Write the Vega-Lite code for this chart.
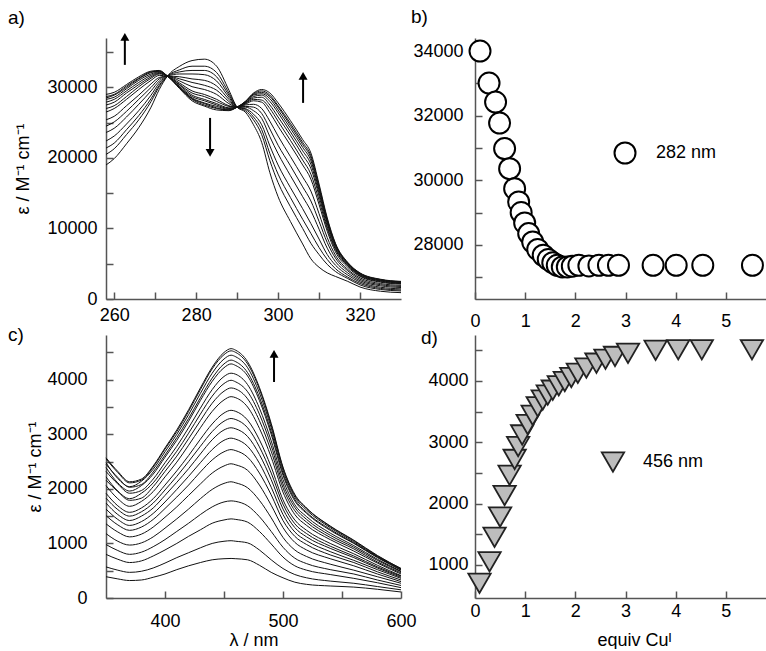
{
"$schema": "https://vega.github.io/schema/vega-lite/v6.json",
"padding": {"left": 8, "top": 7, "right": 0, "bottom": 0},
"background": "white",
"config": {
  "font": "Liberation Sans",
  "view": {"stroke": null},
  "axis": {"grid": false, "domainColor": "#555", "domainWidth": 1.5, "tickColor": "#555", "tickWidth": 1.5, "tickSize": -7, "labelFontSize": 18, "labelColor": "#000", "titleFontSize": 18, "titleFontWeight": "normal", "titleColor": "#000", "labelFlush": false, "labelOverlap": false},
  "title": {"fontSize": 19, "fontWeight": "normal", "anchor": "start", "frame": "group", "color": "#000"},
  "text": {"font": "Liberation Sans", "fontSize": 18, "color": "#000"}
},
"datasets": {
"specA": [
{"c":0,"nm":258,"eps":19000},{"c":0,"nm":260,"eps":19900},{"c":0,"nm":263,"eps":22000},{"c":0,"nm":266,"eps":24300},{"c":0,"nm":269,"eps":27200},{"c":0,"nm":271,"eps":29700},{"c":0,"nm":273,"eps":31600},{"c":0,"nm":276,"eps":33000},{"c":0,"nm":279,"eps":33800},{"c":0,"nm":282,"eps":34000},{"c":0,"nm":285,"eps":33000},{"c":0,"nm":288,"eps":29600},{"c":0,"nm":290,"eps":27200},{"c":0,"nm":292,"eps":26500},{"c":0,"nm":294,"eps":24700},{"c":0,"nm":296,"eps":22200},{"c":0,"nm":298,"eps":17900},{"c":0,"nm":300,"eps":14500},{"c":0,"nm":303,"eps":11000},{"c":0,"nm":306,"eps":7800},{"c":0,"nm":308,"eps":5700},{"c":0,"nm":310,"eps":4500},{"c":0,"nm":312,"eps":3700},{"c":0,"nm":314,"eps":3200},{"c":0,"nm":317,"eps":2500},{"c":0,"nm":320,"eps":1700},{"c":0,"nm":325,"eps":1100},{"c":0,"nm":330,"eps":900},
{"c":1,"nm":258,"eps":20500},{"c":1,"nm":260,"eps":21300},{"c":1,"nm":263,"eps":23300},{"c":1,"nm":266,"eps":25400},{"c":1,"nm":269,"eps":28000},{"c":1,"nm":271,"eps":30100},{"c":1,"nm":273,"eps":31600},{"c":1,"nm":276,"eps":32500},{"c":1,"nm":279,"eps":33000},{"c":1,"nm":282,"eps":33000},{"c":1,"nm":285,"eps":32100},{"c":1,"nm":288,"eps":29200},{"c":1,"nm":290,"eps":27200},{"c":1,"nm":292,"eps":26700},{"c":1,"nm":294,"eps":25400},{"c":1,"nm":296,"eps":23300},{"c":1,"nm":298,"eps":19600},{"c":1,"nm":300,"eps":16500},{"c":1,"nm":303,"eps":13100},{"c":1,"nm":306,"eps":10000},{"c":1,"nm":308,"eps":7900},{"c":1,"nm":310,"eps":6300},{"c":1,"nm":312,"eps":4900},{"c":1,"nm":314,"eps":3900},{"c":1,"nm":317,"eps":2900},{"c":1,"nm":320,"eps":2000},{"c":1,"nm":325,"eps":1350},{"c":1,"nm":330,"eps":1140},
{"c":2,"nm":258,"eps":21400},{"c":2,"nm":260,"eps":22100},{"c":2,"nm":263,"eps":24000},{"c":2,"nm":266,"eps":26000},{"c":2,"nm":269,"eps":28400},{"c":2,"nm":271,"eps":30300},{"c":2,"nm":273,"eps":31600},{"c":2,"nm":276,"eps":32200},{"c":2,"nm":279,"eps":32400},{"c":2,"nm":282,"eps":32400},{"c":2,"nm":285,"eps":31500},{"c":2,"nm":288,"eps":28900},{"c":2,"nm":290,"eps":27200},{"c":2,"nm":292,"eps":26900},{"c":2,"nm":294,"eps":25800},{"c":2,"nm":296,"eps":24000},{"c":2,"nm":298,"eps":20600},{"c":2,"nm":300,"eps":17700},{"c":2,"nm":303,"eps":14400},{"c":2,"nm":306,"eps":11300},{"c":2,"nm":308,"eps":9300},{"c":2,"nm":310,"eps":7300},{"c":2,"nm":312,"eps":5600},{"c":2,"nm":314,"eps":4300},{"c":2,"nm":317,"eps":3100},{"c":2,"nm":320,"eps":2200},{"c":2,"nm":325,"eps":1500},{"c":2,"nm":330,"eps":1280},
{"c":3,"nm":258,"eps":22400},{"c":3,"nm":260,"eps":23100},{"c":3,"nm":263,"eps":24800},{"c":3,"nm":266,"eps":26700},{"c":3,"nm":269,"eps":28900},{"c":3,"nm":271,"eps":30600},{"c":3,"nm":273,"eps":31600},{"c":3,"nm":276,"eps":31900},{"c":3,"nm":279,"eps":31900},{"c":3,"nm":282,"eps":31800},{"c":3,"nm":285,"eps":30900},{"c":3,"nm":288,"eps":28600},{"c":3,"nm":290,"eps":27200},{"c":3,"nm":292,"eps":27000},{"c":3,"nm":294,"eps":26200},{"c":3,"nm":296,"eps":24700},{"c":3,"nm":298,"eps":21700},{"c":3,"nm":300,"eps":19000},{"c":3,"nm":303,"eps":15800},{"c":3,"nm":306,"eps":12800},{"c":3,"nm":308,"eps":10700},{"c":3,"nm":310,"eps":8500},{"c":3,"nm":312,"eps":6300},{"c":3,"nm":314,"eps":4800},{"c":3,"nm":317,"eps":3400},{"c":3,"nm":320,"eps":2400},{"c":3,"nm":325,"eps":1670},{"c":3,"nm":330,"eps":1440},
{"c":4,"nm":258,"eps":23600},{"c":4,"nm":260,"eps":24200},{"c":4,"nm":263,"eps":25800},{"c":4,"nm":266,"eps":27600},{"c":4,"nm":269,"eps":29500},{"c":4,"nm":271,"eps":30900},{"c":4,"nm":273,"eps":31600},{"c":4,"nm":276,"eps":31500},{"c":4,"nm":279,"eps":31200},{"c":4,"nm":282,"eps":31000},{"c":4,"nm":285,"eps":30200},{"c":4,"nm":288,"eps":28300},{"c":4,"nm":290,"eps":27200},{"c":4,"nm":292,"eps":27200},{"c":4,"nm":294,"eps":26700},{"c":4,"nm":296,"eps":25600},{"c":4,"nm":298,"eps":23000},{"c":4,"nm":300,"eps":20600},{"c":4,"nm":303,"eps":17500},{"c":4,"nm":306,"eps":14500},{"c":4,"nm":308,"eps":12500},{"c":4,"nm":310,"eps":9900},{"c":4,"nm":312,"eps":7200},{"c":4,"nm":314,"eps":5300},{"c":4,"nm":317,"eps":3700},{"c":4,"nm":320,"eps":2600},{"c":4,"nm":325,"eps":1870},{"c":4,"nm":330,"eps":1630},
{"c":5,"nm":258,"eps":24500},{"c":5,"nm":260,"eps":25100},{"c":5,"nm":263,"eps":26600},{"c":5,"nm":266,"eps":28300},{"c":5,"nm":269,"eps":30000},{"c":5,"nm":271,"eps":31200},{"c":5,"nm":273,"eps":31600},{"c":5,"nm":276,"eps":31200},{"c":5,"nm":279,"eps":30700},{"c":5,"nm":282,"eps":30300},{"c":5,"nm":285,"eps":29600},{"c":5,"nm":288,"eps":28000},{"c":5,"nm":290,"eps":27200},{"c":5,"nm":292,"eps":27300},{"c":5,"nm":294,"eps":27200},{"c":5,"nm":296,"eps":26300},{"c":5,"nm":298,"eps":24100},{"c":5,"nm":300,"eps":21800},{"c":5,"nm":303,"eps":18900},{"c":5,"nm":306,"eps":15900},{"c":5,"nm":308,"eps":13900},{"c":5,"nm":310,"eps":11000},{"c":5,"nm":312,"eps":8000},{"c":5,"nm":314,"eps":5800},{"c":5,"nm":317,"eps":4000},{"c":5,"nm":320,"eps":2800},{"c":5,"nm":325,"eps":2030},{"c":5,"nm":330,"eps":1780},
{"c":6,"nm":258,"eps":25400},{"c":6,"nm":260,"eps":25900},{"c":6,"nm":263,"eps":27400},{"c":6,"nm":266,"eps":28900},{"c":6,"nm":269,"eps":30500},{"c":6,"nm":271,"eps":31400},{"c":6,"nm":273,"eps":31600},{"c":6,"nm":276,"eps":30900},{"c":6,"nm":279,"eps":30100},{"c":6,"nm":282,"eps":29700},{"c":6,"nm":285,"eps":29000},{"c":6,"nm":288,"eps":27700},{"c":6,"nm":290,"eps":27200},{"c":6,"nm":292,"eps":27500},{"c":6,"nm":294,"eps":27600},{"c":6,"nm":296,"eps":27000},{"c":6,"nm":298,"eps":25200},{"c":6,"nm":300,"eps":23100},{"c":6,"nm":303,"eps":20200},{"c":6,"nm":306,"eps":17300},{"c":6,"nm":308,"eps":15300},{"c":6,"nm":310,"eps":12100},{"c":6,"nm":312,"eps":8700},{"c":6,"nm":314,"eps":6200},{"c":6,"nm":317,"eps":4200},{"c":6,"nm":320,"eps":3000},{"c":6,"nm":325,"eps":2190},{"c":6,"nm":330,"eps":1930},
{"c":7,"nm":258,"eps":26500},{"c":7,"nm":260,"eps":27000},{"c":7,"nm":263,"eps":28300},{"c":7,"nm":266,"eps":29700},{"c":7,"nm":269,"eps":31000},{"c":7,"nm":271,"eps":31700},{"c":7,"nm":273,"eps":31600},{"c":7,"nm":276,"eps":30600},{"c":7,"nm":279,"eps":29500},{"c":7,"nm":282,"eps":29000},{"c":7,"nm":285,"eps":28300},{"c":7,"nm":288,"eps":27400},{"c":7,"nm":290,"eps":27200},{"c":7,"nm":292,"eps":27600},{"c":7,"nm":294,"eps":28100},{"c":7,"nm":296,"eps":27900},{"c":7,"nm":298,"eps":26400},{"c":7,"nm":300,"eps":24500},{"c":7,"nm":303,"eps":21800},{"c":7,"nm":306,"eps":19000},{"c":7,"nm":308,"eps":17000},{"c":7,"nm":310,"eps":13400},{"c":7,"nm":312,"eps":9600},{"c":7,"nm":314,"eps":6700},{"c":7,"nm":317,"eps":4500},{"c":7,"nm":320,"eps":3200},{"c":7,"nm":325,"eps":2380},{"c":7,"nm":330,"eps":2110},
{"c":8,"nm":258,"eps":27500},{"c":8,"nm":260,"eps":27900},{"c":8,"nm":263,"eps":29200},{"c":8,"nm":266,"eps":30400},{"c":8,"nm":269,"eps":31500},{"c":8,"nm":271,"eps":32000},{"c":8,"nm":273,"eps":31600},{"c":8,"nm":276,"eps":30300},{"c":8,"nm":279,"eps":28900},{"c":8,"nm":282,"eps":28300},{"c":8,"nm":285,"eps":27700},{"c":8,"nm":288,"eps":27100},{"c":8,"nm":290,"eps":27200},{"c":8,"nm":292,"eps":27800},{"c":8,"nm":294,"eps":28500},{"c":8,"nm":296,"eps":28600},{"c":8,"nm":298,"eps":27500},{"c":8,"nm":300,"eps":25800},{"c":8,"nm":303,"eps":23200},{"c":8,"nm":306,"eps":20400},{"c":8,"nm":308,"eps":18500},{"c":8,"nm":310,"eps":14600},{"c":8,"nm":312,"eps":10300},{"c":8,"nm":314,"eps":7200},{"c":8,"nm":317,"eps":4800},{"c":8,"nm":320,"eps":3400},{"c":8,"nm":325,"eps":2550},{"c":8,"nm":330,"eps":2260},
{"c":9,"nm":258,"eps":28300},{"c":9,"nm":260,"eps":28600},{"c":9,"nm":263,"eps":29800},{"c":9,"nm":266,"eps":31000},{"c":9,"nm":269,"eps":31900},{"c":9,"nm":271,"eps":32200},{"c":9,"nm":273,"eps":31600},{"c":9,"nm":276,"eps":30000},{"c":9,"nm":279,"eps":28500},{"c":9,"nm":282,"eps":27800},{"c":9,"nm":285,"eps":27300},{"c":9,"nm":288,"eps":26900},{"c":9,"nm":290,"eps":27200},{"c":9,"nm":292,"eps":27900},{"c":9,"nm":294,"eps":28900},{"c":9,"nm":296,"eps":29100},{"c":9,"nm":298,"eps":28400},{"c":9,"nm":300,"eps":26800},{"c":9,"nm":303,"eps":24200},{"c":9,"nm":306,"eps":21500},{"c":9,"nm":308,"eps":19600},{"c":9,"nm":310,"eps":15400},{"c":9,"nm":312,"eps":10900},{"c":9,"nm":314,"eps":7600},{"c":9,"nm":317,"eps":5000},{"c":9,"nm":320,"eps":3550},{"c":9,"nm":325,"eps":2670},{"c":9,"nm":330,"eps":2380},
{"c":10,"nm":258,"eps":28700},{"c":10,"nm":260,"eps":29000},{"c":10,"nm":263,"eps":30200},{"c":10,"nm":266,"eps":31300},{"c":10,"nm":269,"eps":32200},{"c":10,"nm":271,"eps":32300},{"c":10,"nm":273,"eps":31600},{"c":10,"nm":276,"eps":29900},{"c":10,"nm":279,"eps":28300},{"c":10,"nm":282,"eps":27500},{"c":10,"nm":285,"eps":27000},{"c":10,"nm":288,"eps":26800},{"c":10,"nm":290,"eps":27200},{"c":10,"nm":292,"eps":28000},{"c":10,"nm":294,"eps":29100},{"c":10,"nm":296,"eps":29500},{"c":10,"nm":298,"eps":28900},{"c":10,"nm":300,"eps":27400},{"c":10,"nm":303,"eps":24900},{"c":10,"nm":306,"eps":22200},{"c":10,"nm":308,"eps":20300},{"c":10,"nm":310,"eps":16000},{"c":10,"nm":312,"eps":11300},{"c":10,"nm":314,"eps":7800},{"c":10,"nm":317,"eps":5100},{"c":10,"nm":320,"eps":3650},{"c":10,"nm":325,"eps":2750},{"c":10,"nm":330,"eps":2460},
{"c":11,"nm":258,"eps":29000},{"c":11,"nm":260,"eps":29300},{"c":11,"nm":263,"eps":30400},{"c":11,"nm":266,"eps":31500},{"c":11,"nm":269,"eps":32300},{"c":11,"nm":271,"eps":32400},{"c":11,"nm":273,"eps":31600},{"c":11,"nm":276,"eps":29800},{"c":11,"nm":279,"eps":28100},{"c":11,"nm":282,"eps":27350},{"c":11,"nm":285,"eps":26800},{"c":11,"nm":288,"eps":26700},{"c":11,"nm":290,"eps":27200},{"c":11,"nm":292,"eps":28000},{"c":11,"nm":294,"eps":29200},{"c":11,"nm":296,"eps":29700},{"c":11,"nm":298,"eps":29200},{"c":11,"nm":300,"eps":27800},{"c":11,"nm":303,"eps":25300},{"c":11,"nm":306,"eps":22600},{"c":11,"nm":308,"eps":20700},{"c":11,"nm":310,"eps":16300},{"c":11,"nm":312,"eps":11500},{"c":11,"nm":314,"eps":7900},{"c":11,"nm":317,"eps":5200},{"c":11,"nm":320,"eps":3700},{"c":11,"nm":325,"eps":2800},{"c":11,"nm":330,"eps":2500},
{"c":12,"nm":258,"eps":27000},{"c":12,"nm":260,"eps":27400},{"c":12,"nm":263,"eps":28700},{"c":12,"nm":266,"eps":30100},{"c":12,"nm":269,"eps":31300},{"c":12,"nm":271,"eps":31900},{"c":12,"nm":273,"eps":31600},{"c":12,"nm":276,"eps":30400},{"c":12,"nm":279,"eps":29200},{"c":12,"nm":282,"eps":28700},{"c":12,"nm":285,"eps":28000},{"c":12,"nm":288,"eps":27300},{"c":12,"nm":290,"eps":27200},{"c":12,"nm":292,"eps":27700},{"c":12,"nm":294,"eps":28300},{"c":12,"nm":296,"eps":28200},{"c":12,"nm":298,"eps":27000},{"c":12,"nm":300,"eps":25200},{"c":12,"nm":303,"eps":22500},{"c":12,"nm":306,"eps":19700},{"c":12,"nm":308,"eps":17700},{"c":12,"nm":310,"eps":14000},{"c":12,"nm":312,"eps":10000},{"c":12,"nm":314,"eps":7000},{"c":12,"nm":317,"eps":4700},{"c":12,"nm":320,"eps":3300},{"c":12,"nm":325,"eps":2460},{"c":12,"nm":330,"eps":2180},
{"c":13,"nm":258,"eps":27900},{"c":13,"nm":260,"eps":28300},{"c":13,"nm":263,"eps":29500},{"c":13,"nm":266,"eps":30700},{"c":13,"nm":269,"eps":31700},{"c":13,"nm":271,"eps":32100},{"c":13,"nm":273,"eps":31600},{"c":13,"nm":276,"eps":30100},{"c":13,"nm":279,"eps":28700},{"c":13,"nm":282,"eps":28100},{"c":13,"nm":285,"eps":27500},{"c":13,"nm":288,"eps":27000},{"c":13,"nm":290,"eps":27200},{"c":13,"nm":292,"eps":27800},{"c":13,"nm":294,"eps":28700},{"c":13,"nm":296,"eps":28900},{"c":13,"nm":298,"eps":28000},{"c":13,"nm":300,"eps":26400},{"c":13,"nm":303,"eps":23700},{"c":13,"nm":306,"eps":21000},{"c":13,"nm":308,"eps":19100},{"c":13,"nm":310,"eps":15000},{"c":13,"nm":312,"eps":10700},{"c":13,"nm":314,"eps":7400},{"c":13,"nm":317,"eps":4900},{"c":13,"nm":320,"eps":3480},{"c":13,"nm":325,"eps":2610},{"c":13,"nm":330,"eps":2330},
{"c":14,"nm":258,"eps":28500},{"c":14,"nm":260,"eps":28900},{"c":14,"nm":263,"eps":30000},{"c":14,"nm":266,"eps":31200},{"c":14,"nm":269,"eps":32100},{"c":14,"nm":271,"eps":32300},{"c":14,"nm":273,"eps":31600},{"c":14,"nm":276,"eps":29950},{"c":14,"nm":279,"eps":28400},{"c":14,"nm":282,"eps":27700},{"c":14,"nm":285,"eps":27100},{"c":14,"nm":288,"eps":26800},{"c":14,"nm":290,"eps":27200},{"c":14,"nm":292,"eps":27900},{"c":14,"nm":294,"eps":29000},{"c":14,"nm":296,"eps":29300},{"c":14,"nm":298,"eps":28700},{"c":14,"nm":300,"eps":27200},{"c":14,"nm":303,"eps":24600},{"c":14,"nm":306,"eps":21900},{"c":14,"nm":308,"eps":20000},{"c":14,"nm":310,"eps":15700},{"c":14,"nm":312,"eps":11100},{"c":14,"nm":314,"eps":7700},{"c":14,"nm":317,"eps":5070},{"c":14,"nm":320,"eps":3610},{"c":14,"nm":325,"eps":2720},{"c":14,"nm":330,"eps":2420}
],
"arrowsA": [
{"nm":262.6,"eps":37160,"eps2":33190},
{"nm":283.4,"eps":20710,"eps2":25670},
{"nm":306.1,"eps":31630,"eps2":27800}
],
"pointsB": [
{"eq":0.1,"eps":34000},{"eq":0.28,"eps":33010},{"eq":0.41,"eps":32420},{"eq":0.49,"eps":31770},{"eq":0.59,"eps":30980},{"eq":0.69,"eps":30360},{"eq":0.79,"eps":29740},{"eq":0.87,"eps":29330},{"eq":0.92,"eps":29000},{"eq":0.99,"eps":28680},{"eq":1.07,"eps":28350},{"eq":1.15,"eps":28090},{"eq":1.25,"eps":27860},{"eq":1.36,"eps":27680},{"eq":1.46,"eps":27550},{"eq":1.55,"eps":27450},{"eq":1.64,"eps":27370},{"eq":1.74,"eps":27320},{"eq":1.84,"eps":27320},{"eq":1.94,"eps":27340},{"eq":2.07,"eps":27370},{"eq":2.27,"eps":27350},{"eq":2.47,"eps":27370},{"eq":2.66,"eps":27370},{"eq":2.86,"eps":27370},{"eq":3.55,"eps":27370},{"eq":4.01,"eps":27370},{"eq":4.54,"eps":27370},{"eq":5.53,"eps":27370}
],
"legendB": [{"eq":2.99,"eps":30844,"label":"282 nm"}],
"specC": [
{"c":0,"nm":350,"eps":390},{"c":0,"nm":360,"eps":350},{"c":0,"nm":370,"eps":320},{"c":0,"nm":380,"eps":330},{"c":0,"nm":390,"eps":380},{"c":0,"nm":400,"eps":440},{"c":0,"nm":410,"eps":520},{"c":0,"nm":420,"eps":590},{"c":0,"nm":430,"eps":650},{"c":0,"nm":440,"eps":700},{"c":0,"nm":450,"eps":720},{"c":0,"nm":456,"eps":725},{"c":0,"nm":460,"eps":720},{"c":0,"nm":470,"eps":700},{"c":0,"nm":480,"eps":600},{"c":0,"nm":490,"eps":470},{"c":0,"nm":500,"eps":370},{"c":0,"nm":510,"eps":290},{"c":0,"nm":520,"eps":250},{"c":0,"nm":540,"eps":220},{"c":0,"nm":560,"eps":200},{"c":0,"nm":580,"eps":160},{"c":0,"nm":600,"eps":110},
{"c":1,"nm":350,"eps":570},{"c":1,"nm":360,"eps":510},{"c":1,"nm":370,"eps":470},{"c":1,"nm":380,"eps":490},{"c":1,"nm":390,"eps":550},{"c":1,"nm":400,"eps":640},{"c":1,"nm":410,"eps":740},{"c":1,"nm":420,"eps":830},{"c":1,"nm":430,"eps":920},{"c":1,"nm":440,"eps":1000},{"c":1,"nm":450,"eps":1040},{"c":1,"nm":456,"eps":1050},{"c":1,"nm":460,"eps":1040},{"c":1,"nm":470,"eps":1010},{"c":1,"nm":480,"eps":880},{"c":1,"nm":490,"eps":700},{"c":1,"nm":500,"eps":540},{"c":1,"nm":510,"eps":430},{"c":1,"nm":520,"eps":370},{"c":1,"nm":540,"eps":310},{"c":1,"nm":560,"eps":270},{"c":1,"nm":580,"eps":210},{"c":1,"nm":600,"eps":150},
{"c":2,"nm":350,"eps":800},{"c":2,"nm":360,"eps":710},{"c":2,"nm":370,"eps":650},{"c":2,"nm":380,"eps":680},{"c":2,"nm":390,"eps":770},{"c":2,"nm":400,"eps":880},{"c":2,"nm":410,"eps":1000},{"c":2,"nm":420,"eps":1130},{"c":2,"nm":430,"eps":1250},{"c":2,"nm":440,"eps":1370},{"c":2,"nm":450,"eps":1430},{"c":2,"nm":456,"eps":1450},{"c":2,"nm":460,"eps":1440},{"c":2,"nm":470,"eps":1390},{"c":2,"nm":480,"eps":1220},{"c":2,"nm":490,"eps":990},{"c":2,"nm":500,"eps":750},{"c":2,"nm":510,"eps":590},{"c":2,"nm":520,"eps":510},{"c":2,"nm":540,"eps":430},{"c":2,"nm":560,"eps":360},{"c":2,"nm":580,"eps":280},{"c":2,"nm":600,"eps":190},
{"c":3,"nm":350,"eps":980},{"c":3,"nm":360,"eps":870},{"c":3,"nm":370,"eps":800},{"c":3,"nm":380,"eps":840},{"c":3,"nm":390,"eps":940},{"c":3,"nm":400,"eps":1070},{"c":3,"nm":410,"eps":1220},{"c":3,"nm":420,"eps":1370},{"c":3,"nm":430,"eps":1530},{"c":3,"nm":440,"eps":1670},{"c":3,"nm":450,"eps":1760},{"c":3,"nm":456,"eps":1780},{"c":3,"nm":460,"eps":1770},{"c":3,"nm":470,"eps":1690},{"c":3,"nm":480,"eps":1490},{"c":3,"nm":490,"eps":1220},{"c":3,"nm":500,"eps":930},{"c":3,"nm":510,"eps":730},{"c":3,"nm":520,"eps":630},{"c":3,"nm":540,"eps":520},{"c":3,"nm":560,"eps":440},{"c":3,"nm":580,"eps":330},{"c":3,"nm":600,"eps":230},
{"c":4,"nm":350,"eps":1180},{"c":4,"nm":360,"eps":1040},{"c":4,"nm":370,"eps":970},{"c":4,"nm":380,"eps":1010},{"c":4,"nm":390,"eps":1120},{"c":4,"nm":400,"eps":1280},{"c":4,"nm":410,"eps":1450},{"c":4,"nm":420,"eps":1630},{"c":4,"nm":430,"eps":1820},{"c":4,"nm":440,"eps":1990},{"c":4,"nm":450,"eps":2100},{"c":4,"nm":456,"eps":2130},{"c":4,"nm":460,"eps":2110},{"c":4,"nm":470,"eps":2020},{"c":4,"nm":480,"eps":1790},{"c":4,"nm":490,"eps":1470},{"c":4,"nm":500,"eps":1110},{"c":4,"nm":510,"eps":880},{"c":4,"nm":520,"eps":760},{"c":4,"nm":540,"eps":620},{"c":4,"nm":560,"eps":510},{"c":4,"nm":580,"eps":390},{"c":4,"nm":600,"eps":270},
{"c":5,"nm":350,"eps":1360},{"c":5,"nm":360,"eps":1210},{"c":5,"nm":370,"eps":1120},{"c":5,"nm":380,"eps":1170},{"c":5,"nm":390,"eps":1300},{"c":5,"nm":400,"eps":1480},{"c":5,"nm":410,"eps":1670},{"c":5,"nm":420,"eps":1880},{"c":5,"nm":430,"eps":2090},{"c":5,"nm":440,"eps":2290},{"c":5,"nm":450,"eps":2420},{"c":5,"nm":456,"eps":2460},{"c":5,"nm":460,"eps":2440},{"c":5,"nm":470,"eps":2340},{"c":5,"nm":480,"eps":2070},{"c":5,"nm":490,"eps":1700},{"c":5,"nm":500,"eps":1290},{"c":5,"nm":510,"eps":1020},{"c":5,"nm":520,"eps":880},{"c":5,"nm":540,"eps":720},{"c":5,"nm":560,"eps":590},{"c":5,"nm":580,"eps":440},{"c":5,"nm":600,"eps":300},
{"c":6,"nm":350,"eps":1510},{"c":6,"nm":360,"eps":1340},{"c":6,"nm":370,"eps":1240},{"c":6,"nm":380,"eps":1300},{"c":6,"nm":390,"eps":1440},{"c":6,"nm":400,"eps":1640},{"c":6,"nm":410,"eps":1850},{"c":6,"nm":420,"eps":2070},{"c":6,"nm":430,"eps":2310},{"c":6,"nm":440,"eps":2530},{"c":6,"nm":450,"eps":2680},{"c":6,"nm":456,"eps":2720},{"c":6,"nm":460,"eps":2700},{"c":6,"nm":470,"eps":2580},{"c":6,"nm":480,"eps":2290},{"c":6,"nm":490,"eps":1890},{"c":6,"nm":500,"eps":1420},{"c":6,"nm":510,"eps":1130},{"c":6,"nm":520,"eps":980},{"c":6,"nm":540,"eps":790},{"c":6,"nm":560,"eps":650},{"c":6,"nm":580,"eps":480},{"c":6,"nm":600,"eps":330},
{"c":7,"nm":350,"eps":1630},{"c":7,"nm":360,"eps":1440},{"c":7,"nm":370,"eps":1330},{"c":7,"nm":380,"eps":1400},{"c":7,"nm":390,"eps":1550},{"c":7,"nm":400,"eps":1760},{"c":7,"nm":410,"eps":1990},{"c":7,"nm":420,"eps":2230},{"c":7,"nm":430,"eps":2480},{"c":7,"nm":440,"eps":2720},{"c":7,"nm":450,"eps":2890},{"c":7,"nm":456,"eps":2930},{"c":7,"nm":460,"eps":2910},{"c":7,"nm":470,"eps":2780},{"c":7,"nm":480,"eps":2470},{"c":7,"nm":490,"eps":2030},{"c":7,"nm":500,"eps":1530},{"c":7,"nm":510,"eps":1210},{"c":7,"nm":520,"eps":1050},{"c":7,"nm":540,"eps":850},{"c":7,"nm":560,"eps":690},{"c":7,"nm":580,"eps":520},{"c":7,"nm":600,"eps":360},
{"c":8,"nm":350,"eps":1740},{"c":8,"nm":360,"eps":1530},{"c":8,"nm":370,"eps":1420},{"c":8,"nm":380,"eps":1500},{"c":8,"nm":390,"eps":1650},{"c":8,"nm":400,"eps":1880},{"c":8,"nm":410,"eps":2120},{"c":8,"nm":420,"eps":2370},{"c":8,"nm":430,"eps":2640},{"c":8,"nm":440,"eps":2900},{"c":8,"nm":450,"eps":3080},{"c":8,"nm":456,"eps":3120},{"c":8,"nm":460,"eps":3100},{"c":8,"nm":470,"eps":2960},{"c":8,"nm":480,"eps":2630},{"c":8,"nm":490,"eps":2170},{"c":8,"nm":500,"eps":1630},{"c":8,"nm":510,"eps":1290},{"c":8,"nm":520,"eps":1120},{"c":8,"nm":540,"eps":910},{"c":8,"nm":560,"eps":740},{"c":8,"nm":580,"eps":550},{"c":8,"nm":600,"eps":380},
{"c":9,"nm":350,"eps":1830},{"c":9,"nm":360,"eps":1620},{"c":9,"nm":370,"eps":1500},{"c":9,"nm":380,"eps":1580},{"c":9,"nm":390,"eps":1740},{"c":9,"nm":400,"eps":1980},{"c":9,"nm":410,"eps":2230},{"c":9,"nm":420,"eps":2500},{"c":9,"nm":430,"eps":2780},{"c":9,"nm":440,"eps":3050},{"c":9,"nm":450,"eps":3240},{"c":9,"nm":456,"eps":3290},{"c":9,"nm":460,"eps":3270},{"c":9,"nm":470,"eps":3120},{"c":9,"nm":480,"eps":2770},{"c":9,"nm":490,"eps":2290},{"c":9,"nm":500,"eps":1720},{"c":9,"nm":510,"eps":1360},{"c":9,"nm":520,"eps":1180},{"c":9,"nm":540,"eps":950},{"c":9,"nm":560,"eps":770},{"c":9,"nm":580,"eps":570},{"c":9,"nm":600,"eps":400},
{"c":10,"nm":350,"eps":1920},{"c":10,"nm":360,"eps":1690},{"c":10,"nm":370,"eps":1570},{"c":10,"nm":380,"eps":1650},{"c":10,"nm":390,"eps":1820},{"c":10,"nm":400,"eps":2070},{"c":10,"nm":410,"eps":2330},{"c":10,"nm":420,"eps":2610},{"c":10,"nm":430,"eps":2910},{"c":10,"nm":440,"eps":3190},{"c":10,"nm":450,"eps":3390},{"c":10,"nm":456,"eps":3440},{"c":10,"nm":460,"eps":3420},{"c":10,"nm":470,"eps":3260},{"c":10,"nm":480,"eps":2900},{"c":10,"nm":490,"eps":2400},{"c":10,"nm":500,"eps":1800},{"c":10,"nm":510,"eps":1430},{"c":10,"nm":520,"eps":1240},{"c":10,"nm":540,"eps":1000},{"c":10,"nm":560,"eps":810},{"c":10,"nm":580,"eps":600},{"c":10,"nm":600,"eps":410},
{"c":11,"nm":350,"eps":2060},{"c":11,"nm":360,"eps":1820},{"c":11,"nm":370,"eps":1680},{"c":11,"nm":380,"eps":1770},{"c":11,"nm":390,"eps":1950},{"c":11,"nm":400,"eps":2220},{"c":11,"nm":410,"eps":2490},{"c":11,"nm":420,"eps":2800},{"c":11,"nm":430,"eps":3120},{"c":11,"nm":440,"eps":3420},{"c":11,"nm":450,"eps":3630},{"c":11,"nm":456,"eps":3690},{"c":11,"nm":460,"eps":3670},{"c":11,"nm":470,"eps":3500},{"c":11,"nm":480,"eps":3110},{"c":11,"nm":490,"eps":2580},{"c":11,"nm":500,"eps":1940},{"c":11,"nm":510,"eps":1530},{"c":11,"nm":520,"eps":1330},{"c":11,"nm":540,"eps":1070},{"c":11,"nm":560,"eps":860},{"c":11,"nm":580,"eps":640},{"c":11,"nm":600,"eps":440},
{"c":12,"nm":350,"eps":2220},{"c":12,"nm":360,"eps":1960},{"c":12,"nm":370,"eps":1820},{"c":12,"nm":380,"eps":1920},{"c":12,"nm":390,"eps":2110},{"c":12,"nm":400,"eps":2400},{"c":12,"nm":410,"eps":2690},{"c":12,"nm":420,"eps":3020},{"c":12,"nm":430,"eps":3370},{"c":12,"nm":440,"eps":3700},{"c":12,"nm":450,"eps":3930},{"c":12,"nm":456,"eps":3990},{"c":12,"nm":460,"eps":3960},{"c":12,"nm":470,"eps":3780},{"c":12,"nm":480,"eps":3370},{"c":12,"nm":490,"eps":2790},{"c":12,"nm":500,"eps":2090},{"c":12,"nm":510,"eps":1660},{"c":12,"nm":520,"eps":1440},{"c":12,"nm":540,"eps":1150},{"c":12,"nm":560,"eps":930},{"c":12,"nm":580,"eps":690},{"c":12,"nm":600,"eps":480},
{"c":13,"nm":350,"eps":2390},{"c":13,"nm":360,"eps":2110},{"c":13,"nm":370,"eps":1960},{"c":13,"nm":380,"eps":2060},{"c":13,"nm":390,"eps":2270},{"c":13,"nm":400,"eps":2580},{"c":13,"nm":410,"eps":2890},{"c":13,"nm":420,"eps":3240},{"c":13,"nm":430,"eps":3620},{"c":13,"nm":440,"eps":3970},{"c":13,"nm":450,"eps":4220},{"c":13,"nm":456,"eps":4290},{"c":13,"nm":460,"eps":4260},{"c":13,"nm":470,"eps":4070},{"c":13,"nm":480,"eps":3620},{"c":13,"nm":490,"eps":3000},{"c":13,"nm":500,"eps":2250},{"c":13,"nm":510,"eps":1780},{"c":13,"nm":520,"eps":1550},{"c":13,"nm":540,"eps":1240},{"c":13,"nm":560,"eps":1000},{"c":13,"nm":580,"eps":740},{"c":13,"nm":600,"eps":510},
{"c":14,"nm":350,"eps":2480},{"c":14,"nm":360,"eps":2190},{"c":14,"nm":370,"eps":2040},{"c":14,"nm":380,"eps":2140},{"c":14,"nm":390,"eps":2360},{"c":14,"nm":400,"eps":2680},{"c":14,"nm":410,"eps":3000},{"c":14,"nm":420,"eps":3360},{"c":14,"nm":430,"eps":3750},{"c":14,"nm":440,"eps":4120},{"c":14,"nm":450,"eps":4380},{"c":14,"nm":456,"eps":4450},{"c":14,"nm":460,"eps":4420},{"c":14,"nm":470,"eps":4220},{"c":14,"nm":480,"eps":3760},{"c":14,"nm":490,"eps":3120},{"c":14,"nm":500,"eps":2340},{"c":14,"nm":510,"eps":1850},{"c":14,"nm":520,"eps":1610},{"c":14,"nm":540,"eps":1290},{"c":14,"nm":560,"eps":1030},{"c":14,"nm":580,"eps":760},{"c":14,"nm":600,"eps":530},
{"c":15,"nm":350,"eps":2570},{"c":15,"nm":360,"eps":2320},{"c":15,"nm":370,"eps":2130},{"c":15,"nm":380,"eps":2180},{"c":15,"nm":390,"eps":2420},{"c":15,"nm":400,"eps":2750},{"c":15,"nm":410,"eps":3080},{"c":15,"nm":420,"eps":3450},{"c":15,"nm":430,"eps":3850},{"c":15,"nm":440,"eps":4230},{"c":15,"nm":450,"eps":4500},{"c":15,"nm":456,"eps":4570},{"c":15,"nm":460,"eps":4540},{"c":15,"nm":470,"eps":4330},{"c":15,"nm":480,"eps":3860},{"c":15,"nm":490,"eps":3200},{"c":15,"nm":500,"eps":2400},{"c":15,"nm":510,"eps":1900},{"c":15,"nm":520,"eps":1650},{"c":15,"nm":540,"eps":1320},{"c":15,"nm":560,"eps":1060},{"c":15,"nm":580,"eps":780},{"c":15,"nm":600,"eps":540},
{"c":16,"nm":350,"eps":2160},{"c":16,"nm":360,"eps":1950},{"c":16,"nm":370,"eps":1790},{"c":16,"nm":380,"eps":1830},{"c":16,"nm":390,"eps":2040},{"c":16,"nm":400,"eps":2320},{"c":16,"nm":410,"eps":2600},{"c":16,"nm":420,"eps":2920},{"c":16,"nm":430,"eps":3250},{"c":16,"nm":440,"eps":3570},{"c":16,"nm":450,"eps":3790},{"c":16,"nm":456,"eps":3850},{"c":16,"nm":460,"eps":3830},{"c":16,"nm":470,"eps":3650},{"c":16,"nm":480,"eps":3250},{"c":16,"nm":490,"eps":2690},{"c":16,"nm":500,"eps":2020},{"c":16,"nm":510,"eps":1600},{"c":16,"nm":520,"eps":1390},{"c":16,"nm":540,"eps":1110},{"c":16,"nm":560,"eps":900},{"c":16,"nm":580,"eps":660},{"c":16,"nm":600,"eps":460},
{"c":17,"nm":350,"eps":2320},{"c":17,"nm":360,"eps":2090},{"c":17,"nm":370,"eps":1920},{"c":17,"nm":380,"eps":1970},{"c":17,"nm":390,"eps":2180},{"c":17,"nm":400,"eps":2480},{"c":17,"nm":410,"eps":2780},{"c":17,"nm":420,"eps":3120},{"c":17,"nm":430,"eps":3480},{"c":17,"nm":440,"eps":3820},{"c":17,"nm":450,"eps":4060},{"c":17,"nm":456,"eps":4120},{"c":17,"nm":460,"eps":4100},{"c":17,"nm":470,"eps":3910},{"c":17,"nm":480,"eps":3480},{"c":17,"nm":490,"eps":2880},{"c":17,"nm":500,"eps":2170},{"c":17,"nm":510,"eps":1710},{"c":17,"nm":520,"eps":1490},{"c":17,"nm":540,"eps":1190},{"c":17,"nm":560,"eps":960},{"c":17,"nm":580,"eps":710},{"c":17,"nm":600,"eps":490},
{"c":18,"nm":350,"eps":2450},{"c":18,"nm":360,"eps":2210},{"c":18,"nm":370,"eps":2030},{"c":18,"nm":380,"eps":2080},{"c":18,"nm":390,"eps":2310},{"c":18,"nm":400,"eps":2620},{"c":18,"nm":410,"eps":2940},{"c":18,"nm":420,"eps":3290},{"c":18,"nm":430,"eps":3670},{"c":18,"nm":440,"eps":4030},{"c":18,"nm":450,"eps":4290},{"c":18,"nm":456,"eps":4360},{"c":18,"nm":460,"eps":4330},{"c":18,"nm":470,"eps":4130},{"c":18,"nm":480,"eps":3680},{"c":18,"nm":490,"eps":3050},{"c":18,"nm":500,"eps":2290},{"c":18,"nm":510,"eps":1810},{"c":18,"nm":520,"eps":1570},{"c":18,"nm":540,"eps":1260},{"c":18,"nm":560,"eps":1010},{"c":18,"nm":580,"eps":750},{"c":18,"nm":600,"eps":520},
{"c":19,"nm":350,"eps":2550},{"c":19,"nm":360,"eps":2300},{"c":19,"nm":370,"eps":2110},{"c":19,"nm":380,"eps":2160},{"c":19,"nm":390,"eps":2400},{"c":19,"nm":400,"eps":2730},{"c":19,"nm":410,"eps":3050},{"c":19,"nm":420,"eps":3420},{"c":19,"nm":430,"eps":3820},{"c":19,"nm":440,"eps":4200},{"c":19,"nm":450,"eps":4460},{"c":19,"nm":456,"eps":4530},{"c":19,"nm":460,"eps":4500},{"c":19,"nm":470,"eps":4290},{"c":19,"nm":480,"eps":3830},{"c":19,"nm":490,"eps":3170},{"c":19,"nm":500,"eps":2380},{"c":19,"nm":510,"eps":1880},{"c":19,"nm":520,"eps":1640},{"c":19,"nm":540,"eps":1310},{"c":19,"nm":560,"eps":1050},{"c":19,"nm":580,"eps":770},{"c":19,"nm":600,"eps":540}
],
"arrowsC": [
{"nm":492.4,"eps":4472,"eps2":3959}
],
"pointsD": [
{"eq":0.09,"eps":700},{"eq":0.29,"eps":1050},{"eq":0.39,"eps":1450},{"eq":0.5,"eps":1780},{"eq":0.59,"eps":2130},{"eq":0.69,"eps":2460},{"eq":0.79,"eps":2720},{"eq":0.86,"eps":2930},{"eq":0.94,"eps":3120},{"eq":1.05,"eps":3290},{"eq":1.15,"eps":3440},{"eq":1.25,"eps":3580},{"eq":1.35,"eps":3690},{"eq":1.45,"eps":3770},{"eq":1.55,"eps":3850},{"eq":1.67,"eps":3920},{"eq":1.79,"eps":3990},{"eq":1.92,"eps":4055},{"eq":2.05,"eps":4125},{"eq":2.22,"eps":4210},{"eq":2.42,"eps":4290},{"eq":2.6,"eps":4355},{"eq":2.79,"eps":4400},{"eq":3.05,"eps":4450},{"eq":3.6,"eps":4500},{"eq":4.05,"eps":4510},{"eq":4.52,"eps":4510},{"eq":5.52,"eps":4510}
],
"legendD": [{"eq":2.75,"eps":2678,"label":"456 nm"}]
},
"columns": 2,
"bounds": "flush",
"spacing": {"row": 36, "column": 74},
"concat": [
{
  "width": 295, "height": 261,
  "title": {"text": "a)", "dx": -98, "offset": 5},
  "encoding": {
    "x": {"field": "nm", "type": "quantitative", "scale": {"domain": [258, 330], "nice": false, "zero": false}, "axis": {"title": null, "values": [260, 270, 280, 290, 300, 310, 320], "labelExpr": "datum.value % 20 === 0 ? datum.label : ''", "labelPadding": 14}},
    "y": {"field": "eps", "type": "quantitative", "scale": {"domain": [0, 37000], "nice": false}, "axis": {"title": "ε / M⁻¹ cm⁻¹", "values": [0, 5000, 10000, 15000, 20000, 25000, 30000, 35000], "format": "d", "labelExpr": "datum.value % 10000 === 0 ? datum.label : ''", "labelPadding": 16, "titlePadding": 14}}
  },
  "layer": [
    {"data": {"name": "specA"}, "mark": {"type": "line", "interpolate": "monotone", "color": "#111", "strokeWidth": 1}, "encoding": {"detail": {"field": "c", "type": "nominal"}}},
    {"data": {"name": "arrowsA"}, "mark": {"type": "rule", "color": "#000", "strokeWidth": 2}, "encoding": {"y2": {"field": "eps2"}}},
    {"data": {"name": "arrowsA"}, "mark": {"type": "point", "filled": true, "color": "#000", "size": 80, "opacity": 1}, "encoding": {"shape": {"condition": {"test": "datum.eps > datum.eps2", "value": "triangle-up"}, "value": "triangle-down"}}}
  ]
},
{
  "width": 291, "height": 261,
  "title": {"text": "b)", "dx": -64, "offset": 10},
  "encoding": {
    "x": {"field": "eq", "type": "quantitative", "scale": {"domain": [0, 5.8], "nice": false, "zero": false}, "axis": {"title": null, "values": [0, 1, 2, 3, 4, 5], "labelPadding": 20}},
    "y": {"field": "eps", "type": "quantitative", "scale": {"domain": [26326, 34403], "nice": false, "zero": false}, "axis": {"title": null, "values": [27000, 28000, 29000, 30000, 31000, 32000, 33000, 34000], "format": "d", "labelExpr": "datum.value % 2000 === 0 ? datum.label : ''", "labelPadding": 19}}
  },
  "layer": [
    {"data": {"name": "pointsB"}, "mark": {"type": "point", "shape": "circle", "filled": true, "fill": "white", "stroke": "#000", "strokeWidth": 2, "size": 441, "opacity": 1}},
    {"data": {"name": "legendB"}, "mark": {"type": "point", "shape": "circle", "filled": true, "fill": "white", "stroke": "#000", "strokeWidth": 2, "size": 441, "opacity": 1}},
    {"data": {"name": "legendB"}, "mark": {"type": "text", "align": "left", "baseline": "middle", "dx": 31, "fontSize": 18}, "encoding": {"text": {"field": "label"}}}
  ]
},
{
  "width": 295, "height": 263,
  "title": {"text": "c)", "dx": -98, "offset": -10},
  "encoding": {
    "x": {"field": "nm", "type": "quantitative", "scale": {"domain": [350, 600], "nice": false, "zero": false}, "axis": {"title": "λ / nm", "values": [400, 450, 500, 550, 600], "labelExpr": "datum.value % 100 === 0 ? datum.label : ''", "labelPadding": 21, "titlePadding": 1}},
    "y": {"field": "eps", "type": "quantitative", "scale": {"domain": [0, 4820], "nice": false}, "axis": {"title": "ε / M⁻¹ cm⁻¹", "values": [0, 500, 1000, 1500, 2000, 2500, 3000, 3500, 4000, 4500], "format": "d", "labelExpr": "datum.value % 1000 === 0 ? datum.label : ''", "labelPadding": 26, "titlePadding": 2}}
  },
  "layer": [
    {"data": {"name": "specC"}, "mark": {"type": "line", "interpolate": "monotone", "color": "#111", "strokeWidth": 1}, "encoding": {"detail": {"field": "c", "type": "nominal"}}},
    {"data": {"name": "arrowsC"}, "mark": {"type": "rule", "color": "#000", "strokeWidth": 2}, "encoding": {"y2": {"field": "eps2"}}},
    {"data": {"name": "arrowsC"}, "mark": {"type": "point", "filled": true, "color": "#000", "size": 80, "opacity": 1, "shape": "triangle-up"}}
  ]
},
{
  "width": 291, "height": 263,
  "title": {"text": "d)", "dx": -54, "offset": -13},
  "encoding": {
    "x": {"field": "eq", "type": "quantitative", "scale": {"domain": [0, 5.8], "nice": false, "zero": false}, "axis": {"title": "equiv  Cuᴵ", "values": [0, 1, 2, 3, 4, 5], "labelPadding": 11, "titlePadding": 11, "titleX": 159}},
    "y": {"field": "eps", "type": "quantitative", "scale": {"domain": [460, 4750], "nice": false, "zero": false}, "axis": {"title": null, "values": [1000, 1500, 2000, 2500, 3000, 3500, 4000, 4500], "format": "d", "labelExpr": "datum.value % 1000 === 0 ? datum.label : ''", "labelPadding": 14}}
  },
  "layer": [
    {"data": {"name": "pointsD"}, "mark": {"type": "point", "shape": "triangle-down", "filled": true, "fill": "#bdbdbd", "stroke": "#222", "strokeWidth": 1.8, "size": 500, "opacity": 1}},
    {"data": {"name": "legendD"}, "mark": {"type": "point", "shape": "triangle-down", "filled": true, "fill": "#bdbdbd", "stroke": "#222", "strokeWidth": 1.8, "size": 500, "opacity": 1}},
    {"data": {"name": "legendD"}, "mark": {"type": "text", "align": "left", "baseline": "middle", "dx": 30, "fontSize": 18}, "encoding": {"text": {"field": "label"}}}
  ]
}
]
}
